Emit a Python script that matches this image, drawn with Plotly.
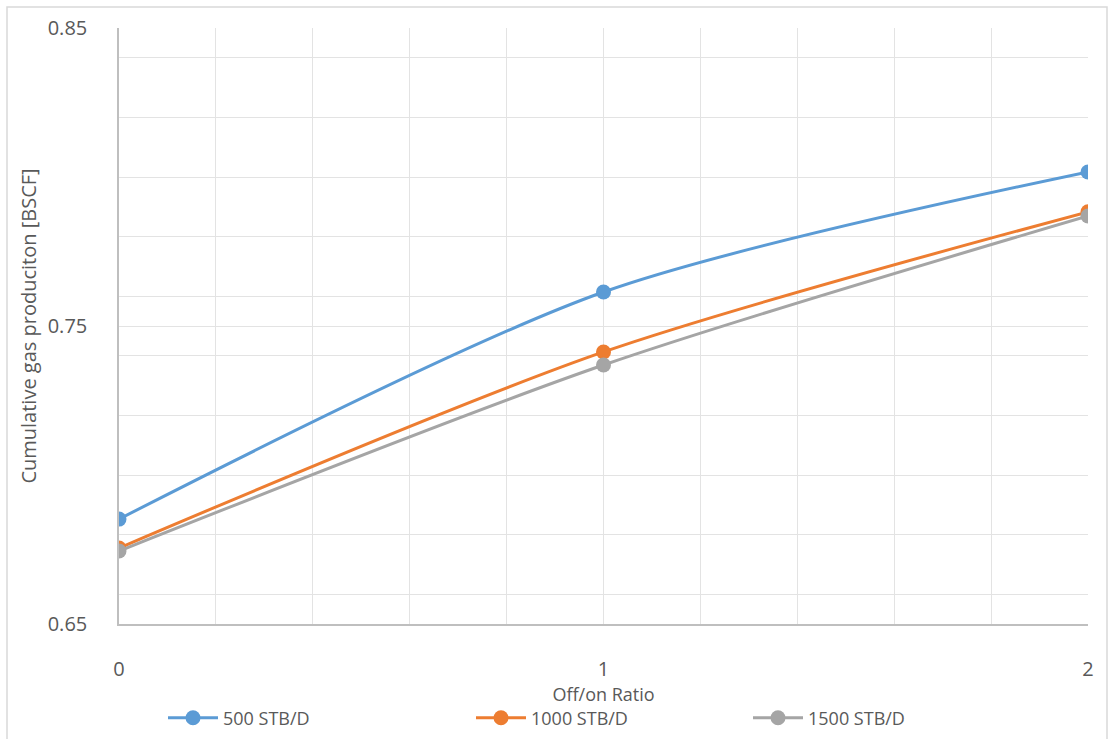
import plotly.graph_objects as go

x_ratio = [0, 1, 2]
series_names = ["500 STB/D", "1000 STB/D", "1500 STB/D"]
gas_500 = [0.6852, 0.7614, 0.8017]
gas_1000 = [0.6755, 0.7413, 0.7883]
gas_1500 = [0.6745, 0.7369, 0.7869]
colors = ["#5B9BD5", "#ED7D31", "#A5A5A5"]

W, H = 1110, 739
L, R, T, B = 119, 22, 28, 115

pw = W - L - R
ph = H - T - B
def px2x(px):
    return (px - L) / pw
def py2y(py):
    return 1 - (py - T) / ph

font_col = "#595959"
FONT = "Open Sans, Noto Sans, sans-serif"

legend_ids = ["legend", "legend2", "legend3"]
legend_px = [163, 471, 748]

fig = go.Figure()
for name, ys, c, lid in zip(series_names, [gas_500, gas_1000, gas_1500], colors, legend_ids):
    fig.add_trace(go.Scatter(
        x=x_ratio, y=ys, name=name, mode="lines+markers",
        line=dict(color=c, width=3, shape="spline", smoothing=0.8),
        marker=dict(color=c, size=15),
        legend=lid,
    ))

legend_common = dict(orientation="h", yanchor="middle", xanchor="left", itemwidth=50,
                     font=dict(size=18, color=font_col, family=FONT),
                     bgcolor="rgba(0,0,0,0)", borderwidth=0)
layout_legends = {}
for lid, lx in zip(legend_ids, legend_px):
    layout_legends[lid] = dict(legend_common, x=px2x(lx), y=py2y(718))

fig.update_layout(
    width=W, height=H,
    margin=dict(l=L, r=R, t=T, b=B, autoexpand=False),
    paper_bgcolor="white", plot_bgcolor="white",
    font=dict(family=FONT, size=16, color=font_col),
    showlegend=True,
    xaxis=dict(range=[0, 2], tickvals=x_ratio, ticktext=["0", "1", "2"],
               showgrid=True, gridcolor="#E3E3E3", gridwidth=1,
               minor=dict(dtick=0.2, showgrid=True, gridcolor="#E3E3E3"),
               showline=True, linecolor="#BFBFBF", linewidth=1.5,
               zeroline=False, ticks="", ticklabelstandoff=26, automargin=False,
               tickfont=dict(size=20, color=font_col),
               title=dict(text="Off/on Ratio", standoff=4, font=dict(size=18, color=font_col))),
    yaxis=dict(range=[0.65, 0.85], tickvals=[0.65, 0.75, 0.85], ticktext=["0.65", "0.75", "0.85"],
               showgrid=True, gridcolor="#E3E3E3", gridwidth=1,
               minor=dict(dtick=0.02, showgrid=True, gridcolor="#E3E3E3"),
               showline=True, linecolor="#BFBFBF", linewidth=1.5,
               zeroline=False, ticks="", ticklabelstandoff=26, automargin=False,
               tickfont=dict(size=20, color=font_col),
               title=dict(text="Cumulative gas produciton [BSCF]", standoff=6,
                          font=dict(size=20, color=font_col))),
    **layout_legends,
)

fig.add_shape(type="rect", xref="paper", yref="paper",
              x0=px2x(7), x1=px2x(1107), y0=py2y(745), y1=py2y(7),
              line=dict(color="#D9D9D9", width=1.5), fillcolor="rgba(0,0,0,0)", layer="below")

fig.write_html("out.html", config={"displayModeBar": False},
               post_script="document.body.style.margin='0';document.body.style.overflow='hidden';")
